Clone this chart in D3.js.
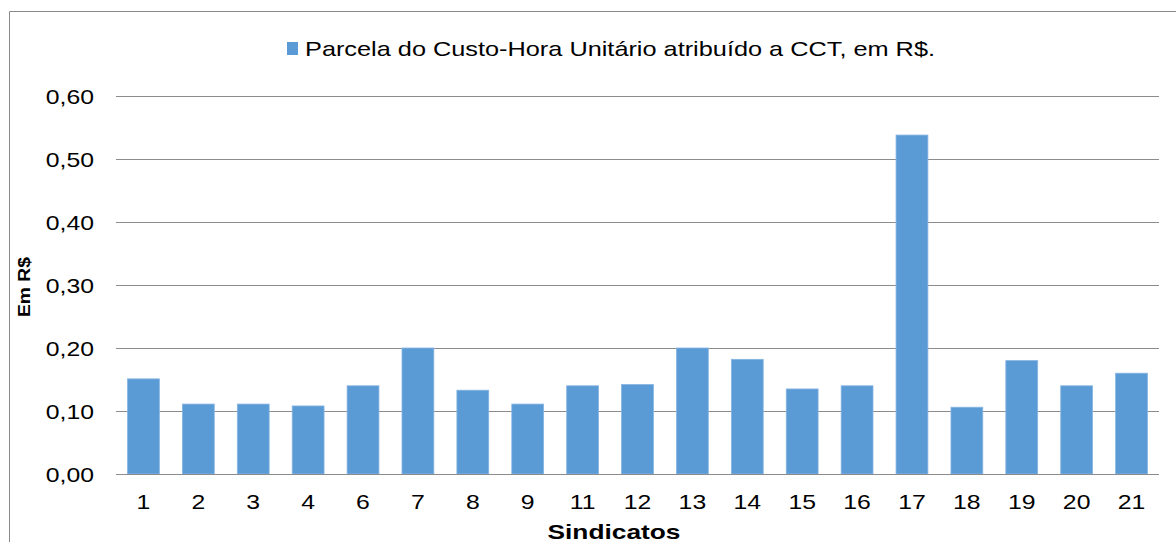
<!DOCTYPE html>
<html>
<head>
<meta charset="utf-8">
<script src="https://cdn.jsdelivr.net/npm/d3@7"></script>
<style>
  body { margin: 0; background: #fff; }
  svg { display: block; font-family: "Liberation Sans", Arial, sans-serif; }
</style>
</head>
<body>
<svg id="chart" width="1176" height="542"></svg>
<script>
// data
const sindicatos = ["1", "2", "3", "4", "6", "7", "8", "9", "11", "12", "13", "14", "15", "16", "17", "18", "19", "20", "21"];
const parcela = [0.151, 0.111, 0.111, 0.108, 0.140, 0.200, 0.133, 0.111, 0.140, 0.142, 0.200, 0.182, 0.135, 0.140, 0.538, 0.106, 0.180, 0.140, 0.160];
const yTicks = [0, 0.1, 0.2, 0.3, 0.4, 0.5, 0.6];
const legendLabel = "Parcela do Custo-Hora Unitário atribuído a CCT, em R$.";

const svg = d3.select("#chart");
const blue = "#5b9bd5";
const grid = "#8c8c8c";
const stretch = 1.18; // the source text is a bit wide

// stretch text horizontally a bit, like the original
const widen = sel => sel.each(function() {
    const w = this.getComputedTextLength();
    d3.select(this).attr("textLength", w * stretch).attr("lengthAdjust", "spacingAndGlyphs");
});

// frame (top + left only visible)
svg.append("path")
    .attr("d", "M9.5,542 V11.5 H1176")
    .attr("fill", "none")
    .attr("stroke", "#8a8a8a")
    .attr("stroke-width", 1);

const x = d3.scaleBand()
    .domain(sindicatos)
    .range([116, 1159])
    .paddingInner(0.42)
    .paddingOuter(0.21);

const y = d3.scaleLinear()
    .domain([0, 0.6])
    .range([474, 96]);

// gridlines
svg.append("g")
    .selectAll("line")
    .data(yTicks)
    .enter()
    .append("line")
    .attr("x1", 116)
    .attr("x2", 1159)
    .attr("y1", d => Math.round(y(d)) + 0.5)
    .attr("y2", d => Math.round(y(d)) + 0.5)
    .attr("stroke", grid)
    .attr("stroke-width", 1);

// y tick labels
svg.append("g")
    .selectAll("text")
    .data(yTicks)
    .enter()
    .append("text")
    .attr("x", 94)
    .attr("y", d => y(d) + 7.5)
    .attr("text-anchor", "end")
    .attr("font-size", 21)
    .attr("fill", "#000")
    .text(d => d3.format(".2f")(d).replace(".", ","))
    .call(widen);

// bars
svg.append("g")
    .selectAll("rect")
    .data(parcela)
    .enter()
    .append("rect")
    .attr("x", (d, i) => x(sindicatos[i]))
    .attr("y", d => y(d))
    .attr("width", x.bandwidth())
    .attr("height", d => y(0) - y(d))
    .attr("fill", blue)
    .attr("stroke", "#86b5e3")
    .attr("stroke-width", 0.8);

// baseline
svg.append("line")
    .attr("x1", 116).attr("x2", 1159)
    .attr("y1", 474.5).attr("y2", 474.5)
    .attr("stroke", grid);

// x tick labels
svg.append("g")
    .selectAll("text")
    .data(sindicatos)
    .enter()
    .append("text")
    .attr("x", d => x(d) + x.bandwidth() / 2)
    .attr("y", 509)
    .attr("text-anchor", "middle")
    .attr("font-size", 21)
    .text(d => d)
    .call(widen);

// axis titles
svg.append("text")
    .attr("x", 614)
    .attr("y", 539)
    .attr("text-anchor", "middle")
    .attr("font-size", 21)
    .attr("font-weight", "bold")
    .attr("textLength", 133)
    .attr("lengthAdjust", "spacingAndGlyphs")
    .text("Sindicatos");

svg.append("text")
    .attr("transform", "translate(30,287) rotate(-90)")
    .attr("text-anchor", "middle")
    .attr("font-size", 17)
    .attr("font-weight", "bold")
    .attr("textLength", 60)
    .attr("lengthAdjust", "spacingAndGlyphs")
    .text("Em R$");

// legend
const legend = svg.append("g");
legend.append("rect")
    .attr("x", 287).attr("y", 42)
    .attr("width", 11).attr("height", 13)
    .attr("fill", blue);
legend.append("text")
    .attr("x", 305)
    .attr("y", 56)
    .attr("font-size", 21)
    .attr("textLength", 630)
    .attr("lengthAdjust", "spacingAndGlyphs")
    .text(legendLabel);
</script>
</body>
</html>
